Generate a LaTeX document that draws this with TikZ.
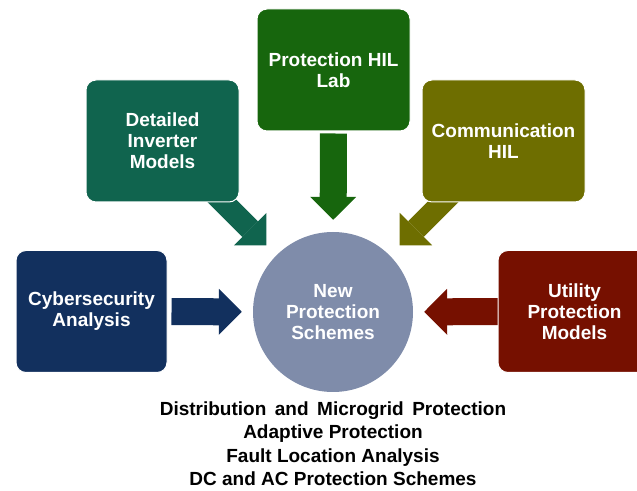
\documentclass[tikz,border=0pt]{standalone}
\usepackage{fontspec}
\setmainfont{Liberation Sans}
\usetikzlibrary{arrows.meta, backgrounds, calc}
\definecolor{labgreen}{RGB}{23,102,13}
\definecolor{invgreen}{RGB}{16,100,78}
\definecolor{commolive}{RGB}{110,110,0}
\definecolor{cybernavy}{RGB}{18,48,94}
\definecolor{utilred}{RGB}{118,16,0}
\definecolor{hubgray}{RGB}{127,140,170}

\begin{document}
\begin{tikzpicture}[
  x=1pt, y=1pt,
  topic/.style={rectangle, rounded corners=10pt, draw=white, line width=1pt, text=white,
    font=\fontsize{19}{21}\selectfont\bfseries, align=center,
    minimum width=153pt, minimum height=122pt, inner sep=2pt},
  hubnode/.style={circle, fill=hubgray, text=white, font=\fontsize{19}{21}\selectfont\bfseries,
    align=center, minimum size=160pt, inner sep=0pt},
  feed/.style={line width=27pt, -{Triangle[length=23pt, width=46pt, line width=0pt]}, shorten >=11pt},
  slant/.style={feed, line width=22pt, shorten >=14pt}
]
\useasboundingbox (0,0) rectangle (637,490);

% Nodes
\node[hubnode] (hub) at (333,178) {New\\Protection\\Schemes};
\node[topic, fill=labgreen] (lab) at (333.5,420) {Protection HIL\\Lab};
\node[topic, fill=invgreen] (inv) at (162.5,349) {Detailed\\Inverter\\Models};
\node[topic, fill=commolive, minimum width=163pt] (comm) at (503.5,349) {Communication\\HIL};
\node[topic, fill=cybernavy, minimum width=151pt] (cyber) at (91.5,178.5) {Cybersecurity\\Analysis};
\node[topic, fill=utilred] (util) at (574.5,178.5) {Utility\\Protection\\Models};
\node[font=\fontsize{19}{23.5}\selectfont\bfseries, align=center, inner sep=0pt] (list) at (333,46.5)
  {\spaceskip=8.5pt\relax Distribution and Microgrid Protection\\Adaptive Protection\\Fault Location Analysis\\DC and AC Protection Schemes};

\coordinate (invtail) at ($(hub)!2.1!(hub.135)$);
\coordinate (commtail) at ($(hub)!2.1!(hub.45)$);

% Arrows
\begin{scope}[on background layer]
\draw[feed, draw=labgreen, shorten <=2pt, shorten >=12pt] (lab) -- (hub);
\draw[feed, draw=cybernavy, shorten <=4pt] (cyber) -- (hub);
\draw[feed, draw=utilred, shorten <=-3pt] (util) -- (hub);
\draw[slant, draw=invgreen] (invtail) -- (hub.135);
\draw[slant, draw=commolive] (commtail) -- (hub.45);
\end{scope}

\end{tikzpicture}
\end{document}
